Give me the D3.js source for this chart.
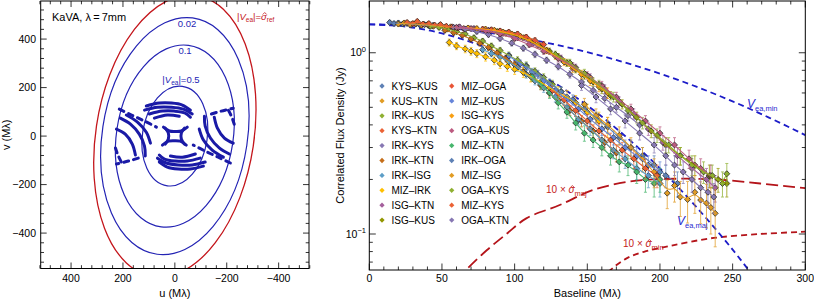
<!DOCTYPE html>
<html>
<head>
<meta charset="utf-8">
<script src="https://cdn.jsdelivr.net/npm/d3@7"></script>
<style>
  body { margin: 0; background: #fff; }
  text { font-family: "Liberation Sans", Arial, sans-serif; }
</style>
</head>
<body>
<svg id="fig" width="814" height="301"></svg>
<script>
// ---------- left panel data: uv coverage and Gaussian contours (Mλ) ----------
const contourLevels = ['0.02', '0.1', '0.5']
const contourMajor = [492, 378, 207]
const contourMinor = [280, 225, 125]
const refMajor = 585
const refMinor = 305
const tiltDeg = 8

// uv tracks (one half; the conjugate half is drawn mirrored)
const uvTracks = [
  [[110, 124], [60, 136], [13, 136], [-29, 128], [-60, 107]],
  [[117, 107], [67, 119], [13, 119], [-33, 111], [-67, 91]],
  [[98, 91], [48, 103], [2, 103], [-40, 95], [-60, 78]],
  [[79, 74], [29, 87], [-17, 82]],
  [[44, 37], [21, 21], [-2, 19], [-25, 21], [-48, 37]],
  [[37, 33], [25, 12], [25, -12], [37, -33]],
  [[210, 74], [171, 49], [137, 8], [117, -41], [114, -82]],
  [[187, 87], [144, 58], [110, 16], [94, -29]],
  [[225, 29], [191, 8], [164, -33], [152, -78]]
]
const uvDashed = [
  [[229, -49], [218, -82], [202, -115]],
  [[214, 111], [167, 87], [117, 62], [71, 37]],
  [[-141, 91], [-179, 103], [-225, 115]]
]

// ---------- right panel data: [baseline (Mλ), flux (Jy), error (Jy)] ----------
const baselines = ['KYS–KUS', 'KUS–KTN', 'IRK–KUS', 'KYS–KTN', 'IRK–KYS', 'IRK–KTN', 'IRK–ISG',
  'MIZ–IRK', 'ISG–KTN', 'ISG–KUS', 'MIZ–OGA', 'MIZ–KUS', 'ISG–KYS', 'OGA–KUS', 'MIZ–KTN',
  'IRK–OGA', 'MIZ–ISG', 'OGA–KYS', 'MIZ–KYS', 'OGA–KTN']
const palette = ['#5E81B5', '#E19C24', '#8FB032', '#EB6235', '#8778B3', '#C56E1A', '#5D9EC7',
  '#FFBF00', '#A5609D', '#929600', '#E95536', '#6685D9', '#F89F13', '#BC5B80', '#47B66D',
  '#5E81B5', '#E19C24', '#8FB032', '#EB6235', '#8778B3']

const KYS_KUS = [[14, 1.47, .04], [17, 1.45, .04], [20, 1.46, .04], [23, 1.44, .04], [26, 1.45, .04], [29, 1.43, .04], [32, 1.44, .04], [35, 1.42, .04], [38, 1.43, .04], [41, 1.41, .04], [44, 1.42, .04]]
const KUS_KTN = [[20, 1.44, .04], [24, 1.46, .04], [28, 1.43, .04], [32, 1.45, .04], [36, 1.42, .04], [40, 1.43, .04], [44, 1.40, .04], [48, 1.41, .04], [52, 1.38, .04], [56, 1.39, .04]]
const IRK_KUS = [[42, 1.40, .04], [48, 1.38, .04], [54, 1.35, .04], [60, 1.31, .04], [66, 1.27, .04], [72, 1.21, .04], [78, 1.16, .04], [84, 1.09, .04], [90, 1.03, .04], [96, 0.97, .04], [102, 0.91, .04], [108, 0.85, .04], [114, 0.79, .035], [120, 0.73, .035], [126, 0.67, .035], [132, 0.61, .035]]
const KYS_KTN = [[26, 1.47, .04], [30, 1.45, .04], [33, 1.49, .04], [37, 1.44, .04], [41, 1.45, .04], [45, 1.42, .04], [49, 1.43, .04], [53, 1.40, .04], [57, 1.39, .04], [61, 1.37, .04], [65, 1.36, .04]]
const IRK_KYS = [[58, 1.38, .04], [66, 1.35, .04], [74, 1.31, .04], [82, 1.26, .04], [90, 1.20, .04], [98, 1.13, .04], [106, 1.06, .04], [114, 0.98, .04], [122, 0.91, .035], [130, 0.84, .035], [138, 0.76, .035], [146, 0.69, .035], [154, 0.62, .03], [162, 0.56, .03], [170, 0.50, .03], [178, 0.45, .03], [186, 0.40, .03]]
const IRK_KTN = [[52, 1.33, .04], [58, 1.29, .04], [64, 1.25, .04], [70, 1.19, .04], [76, 1.13, .04], [82, 1.07, .04], [88, 1.00, .04], [94, 0.93, .04], [100, 0.86, .035], [106, 0.79, .035], [112, 0.73, .035], [118, 0.66, .035], [124, 0.60, .03], [130, 0.55, .03], [138, 0.48, .03], [146, 0.42, .03], [154, 0.37, .03], [162, 0.32, .03], [170, 0.28, .03]]
const IRK_ISG = [[78, 1.04, .04], [84, 0.99, .04], [90, 0.95, .04], [96, 0.89, .04], [102, 0.83, .04], [108, 0.76, .035], [114, 0.70, .035], [120, 0.64, .035], [128, 0.57, .035], [136, 0.50, .03], [144, 0.43, .03], [152, 0.38, .03], [160, 0.33, .03], [168, 0.29, .03], [176, 0.26, .03], [184, 0.23, .03], [192, 0.21, .03], [200, 0.19, .03]]
const MIZ_IRK = [[55, 1.14, .05], [60, 1.09, .05], [66, 1.05, .05], [70, 1.02, .05], [74, 0.99, .05], [80, 0.95, .05], [86, 0.91, .05], [90, 0.87, .05], [95, 0.84, .05], [100, 0.81, .05], [106, 0.78, .05], [111, 0.74, .05], [118, 0.69, .05], [124, 0.64, .05], [130, 0.60, .05], [136, 0.57, .05], [142, 0.53, .05], [150, 0.47, .05], [158, 0.42, .05], [164, 0.39, .05]]
const ISG_KTN = [[62, 1.39, .04], [72, 1.36, .04], [82, 1.33, .04], [92, 1.28, .04], [102, 1.21, .04], [112, 1.12, .04], [122, 1.03, .04], [132, 0.93, .04], [142, 0.83, .035], [152, 0.73, .035], [162, 0.63, .035], [172, 0.54, .03], [182, 0.46, .03], [192, 0.38, .03], [202, 0.32, .03], [212, 0.27, .03], [222, 0.23, .03], [232, 0.20, .03], [238, 0.18, .03]]
const ISG_KUS = [[88, 1.31, .04], [94, 1.28, .04], [100, 1.25, .04], [106, 1.21, .04], [112, 1.15, .04], [118, 1.09, .04], [124, 1.02, .04], [130, 0.95, .04], [136, 0.88, .04], [142, 0.81, .035], [148, 0.75, .035], [154, 0.69, .035], [160, 0.63, .035], [166, 0.58, .03], [174, 0.52, .03], [184, 0.44, .03], [194, 0.37, .03], [204, 0.31, .03], [214, 0.27, .03], [224, 0.24, .03], [234, 0.21, .03], [240, 0.20, .03], [246, 0.19, .03]]
const MIZ_OGA = [[78, 1.35, .04], [84, 1.34, .04], [90, 1.32, .04], [96, 1.30, .04], [102, 1.27, .04], [108, 1.22, .04], [114, 1.17, .04], [120, 1.11, .04]]
const MIZ_KUS = [[96, 0.96, .04], [104, 0.87, .04], [112, 0.78, .04], [120, 0.70, .035], [128, 0.62, .035], [136, 0.55, .035], [144, 0.49, .03], [152, 0.43, .03], [160, 0.38, .03], [168, 0.34, .03], [176, 0.30, .03], [184, 0.27, .03], [192, 0.24, .03], [200, 0.22, .03]]
const ISG_KYS = [[68, 1.37, .04], [74, 1.36, .04], [80, 1.35, .04], [86, 1.33, .04], [92, 1.30, .04], [98, 1.27, .04], [104, 1.23, .04], [110, 1.17, .04], [116, 1.10, .04], [122, 1.03, .04], [128, 0.96, .04], [134, 0.89, .04], [140, 0.82, .04], [146, 0.76, .04], [152, 0.70, .04], [158, 0.65, .04], [164, 0.60, .04]]
const OGA_KUS = [[60, 1.38, .04], [70, 1.36, .04], [80, 1.32, .04], [90, 1.27, .04], [100, 1.20, .04], [110, 1.11, .04], [120, 1.02, .04], [130, 0.93, .04], [140, 0.84, .04], [150, 0.75, .035], [160, 0.66, .035], [170, 0.57, .035], [180, 0.49, .03], [190, 0.42, .03], [200, 0.36, .03], [210, 0.31, .03], [220, 0.26, .03], [228, 0.23, .03], [235, 0.21, .03]]
const MIZ_KTN = [[112, 0.74, .04], [118, 0.67, .04], [124, 0.60, .04], [130, 0.53, .04], [136, 0.47, .035], [142, 0.41, .035], [148, 0.36, .035], [154, 0.33, .03], [160, 0.30, .03], [166, 0.27, .03], [172, 0.25, .03], [178, 0.24, .03], [184, 0.22, .03], [190, 0.20, .03], [196, 0.19, .03], [200, 0.20, .03]]
const IRK_OGA = [[108, 0.84, .04], [116, 0.76, .04], [124, 0.68, .035], [132, 0.61, .035], [140, 0.55, .035], [148, 0.49, .03], [156, 0.44, .03], [164, 0.39, .03], [172, 0.34, .03], [180, 0.30, .03], [188, 0.27, .03], [196, 0.24, .03], [204, 0.21, .03], [212, 0.19, .03]]
const MIZ_ISG = [[148, 0.52, .04], [156, 0.45, .04], [164, 0.40, .04], [172, 0.35, .04], [180, 0.30, .04], [188, 0.26, .04], [196, 0.22, .04], [205, 0.168, .03], [210, 0.185, .035], [214, 0.16, .035], [219, 0.155, .04], [224, 0.17, .04], [228, 0.154, .04], [232, 0.148, .04], [235, 0.14, .04], [238, 0.13, .045]]
const OGA_KYS = [[128, 0.98, .04], [138, 0.88, .04], [148, 0.77, .04], [158, 0.67, .035], [168, 0.57, .035], [178, 0.48, .03], [188, 0.41, .03], [198, 0.35, .03], [206, 0.31, .03], [214, 0.27, .03], [222, 0.24, .03], [230, 0.22, .03], [236, 0.21, .03], [243, 0.19, .03], [246, 0.215, .03]]
const MIZ_KYS = [[126, 0.62, .04], [134, 0.55, .04], [142, 0.48, .035], [150, 0.42, .035], [158, 0.37, .035], [166, 0.33, .03], [174, 0.29, .03], [182, 0.26, .03], [190, 0.23, .03], [198, 0.21, .03]]
const OGA_KTN = [[146, 0.66, .04], [156, 0.57, .04], [166, 0.49, .035], [176, 0.42, .035], [186, 0.36, .03], [196, 0.31, .03], [204, 0.27, .03], [210, 0.24, .03], [216, 0.22, .03], [222, 0.20, .03], [228, 0.18, .03], [233, 0.17, .03], [237, 0.16, .03]]

const seriesData = [KYS_KUS, KUS_KTN, IRK_KUS, KYS_KTN, IRK_KYS, IRK_KTN, IRK_ISG, MIZ_IRK, ISG_KTN, ISG_KUS,
  MIZ_OGA, MIZ_KUS, ISG_KYS, OGA_KUS, MIZ_KTN, IRK_OGA, MIZ_ISG, OGA_KYS, MIZ_KYS, OGA_KTN]

// model curves: [baseline, flux]
const vEaMin = [[0, 1.434], [25, 1.420], [50, 1.379], [75, 1.313], [100, 1.226], [125, 1.123], [150, 1.008], [175, 0.888], [200, 0.767], [225, 0.650], [250, 0.539], [275, 0.439], [300, 0.351]]
const vEaMaj = [[0, 1.434], [25, 1.394], [50, 1.279], [75, 1.108], [100, 0.907], [125, 0.701], [150, 0.512], [175, 0.353], [200, 0.230], [225, 0.141], [250, 0.082], [275, 0.045]]
const sigmaMaj = [[60, 0.056], [66.5, 0.0633], [81, 0.0816], [95, 0.101], [108, 0.122], [131, 0.1445], [154, 0.175], [178, 0.194], [200, 0.2007], [235, 0.2007], [269, 0.190], [300, 0.179]]
const sigmaMin = [[160, 0.056], [166, 0.0633], [177, 0.0734], [189, 0.0798], [207, 0.0859], [235, 0.0947], [269, 0.100], [300, 0.103]]

// ---------- drawing ----------
const svg = d3.select('#fig')
const defs = svg.append('defs')
const blue = '#2424b4'
const trackBlue = '#1a1aa6'
const red = '#c4161c'
const darkRed = '#b4141a'

function frameTicks (g, box, xScale, yScale, xMajor, xMinor, yMajor, yMinor, majLen, minLen) {
  const t = g.append('g').attr('stroke', '#000').attr('stroke-width', 0.8)
  const addX = (vals, len) => vals.forEach(v => {
    const x = xScale(v)
    t.append('line').attr('x1', x).attr('x2', x).attr('y1', box.y1).attr('y2', box.y1 - len)
    t.append('line').attr('x1', x).attr('x2', x).attr('y1', box.y0).attr('y2', box.y0 + len)
  })
  const addY = (vals, len) => vals.forEach(v => {
    const y = yScale(v)
    t.append('line').attr('y1', y).attr('y2', y).attr('x1', box.x0).attr('x2', box.x0 + len)
    t.append('line').attr('y1', y).attr('y2', y).attr('x1', box.x1).attr('x2', box.x1 - len)
  })
  addX(xMajor, majLen); addX(xMinor, minLen)
  addY(yMajor, majLen); addY(yMinor, minLen)
  g.append('rect').attr('x', box.x0).attr('y', box.y0)
    .attr('width', box.x1 - box.x0).attr('height', box.y1 - box.y0)
    .attr('fill', 'none').attr('stroke', '#000').attr('stroke-width', 1)
}

// draws a hat over the character at index idx of a text element
function addHat (g, textSel, idx, color) {
  const box = textSel.node().getExtentOfChar(idx)
  const cx = box.x + box.width / 2 + 0.8
  const top = box.y + box.height * 0.32
  g.append('path')
    .attr('d', `M${cx - 2},${top} L${cx},${top - 2} L${cx + 2},${top}`)
    .attr('fill', 'none').attr('stroke', color).attr('stroke-width', 0.8)
}

// ===== left panel =====
const LB = { x0: 40.7, x1: 309, y0: 1, y1: 268.5 }
const xu = d3.scaleLinear().domain([517, -517]).range([LB.x0, LB.x1])
const yv = d3.scaleLinear().domain([-546, 557]).range([LB.y1, LB.y0])
const left = svg.append('g')

defs.append('clipPath').attr('id', 'clipL').append('rect')
  .attr('x', LB.x0).attr('y', LB.y0).attr('width', LB.x1 - LB.x0).attr('height', LB.y1 - LB.y0)

const gE = left.append('g').attr('clip-path', 'url(#clipL)')
const kx = Math.abs(xu(1) - xu(0))
const ky = Math.abs(yv(1) - yv(0))
const ellT = `translate(${xu(0)},${yv(0)}) scale(${-kx},${-ky}) rotate(${tiltDeg})`

gE.append('ellipse').attr('transform', ellT)
  .attr('rx', refMinor).attr('ry', refMajor)
  .attr('fill', 'none').attr('stroke', red).attr('stroke-width', 1.3)
  .attr('vector-effect', 'non-scaling-stroke')
contourMajor.forEach((a, i) => {
  gE.append('ellipse').attr('transform', ellT)
    .attr('rx', contourMinor[i]).attr('ry', a)
    .attr('fill', 'none').attr('stroke', blue).attr('stroke-width', 1.2)
    .attr('vector-effect', 'non-scaling-stroke')
})

const uvLine = d3.line().x(d => xu(d[0])).y(d => yv(d[1])).curve(d3.curveCatmullRom)
const mirror = tr => tr.map(([u, v]) => [-u, -v])
const allTracks = uvTracks.concat(uvTracks.map(mirror))
const allDashed = uvDashed.concat(uvDashed.map(mirror))
gE.selectAll('path.trk').data(allTracks).enter().append('path')
  .attr('class', 'trk').attr('d', uvLine)
  .attr('fill', 'none').attr('stroke', trackBlue).attr('stroke-width', 3)
  .attr('stroke-linecap', 'round')
gE.selectAll('path.dtrk').data(allDashed).enter().append('path')
  .attr('class', 'dtrk').attr('d', uvLine)
  .attr('fill', 'none').attr('stroke', trackBlue).attr('stroke-width', 3)
  .attr('stroke-linecap', 'round').attr('stroke-dasharray', '5 5')

frameTicks(left, LB, xu, yv,
  [-400, -200, 0, 200, 400], d3.range(-520, 521, 40).filter(v => v % 200 !== 0),
  [-400, -200, 0, 200, 400], d3.range(-520, 521, 40).filter(v => v % 200 !== 0), 6, 3.3)

const fmt = v => (v < 0 ? '\u2212' + Math.abs(v) : String(v))
left.selectAll('text.xt').data([-400, -200, 0, 200, 400]).enter().append('text')
  .attr('x', d => xu(d)).attr('y', 282).attr('text-anchor', 'middle')
  .attr('font-size', 10.5).text(fmt)
left.selectAll('text.yt').data([-400, -200, 0, 200, 400]).enter().append('text')
  .attr('x', 36).attr('y', d => yv(d) + 3.7).attr('text-anchor', 'end')
  .attr('font-size', 10.5).text(fmt)
left.append('text').attr('x', xu(0)).attr('y', 297).attr('text-anchor', 'middle')
  .attr('font-size', 11).text('u (M\u03bb)')
left.append('text').attr('transform', `translate(10,${(LB.y0 + LB.y1) / 2}) rotate(-90)`)
  .attr('text-anchor', 'middle').attr('font-size', 11).text('v (M\u03bb)')

left.append('text').attr('x', 52).attr('y', 21).attr('font-size', 11)
  .text('KaVA, \u03bb\u2009=\u20097mm')

// contour labels
const cl = left.append('g').attr('fill', blue).attr('font-size', 9.5).attr('text-anchor', 'middle')
cl.append('text').attr('x', 187).attr('y', 26.5).text(contourLevels[0])
cl.append('text').attr('x', 185).attr('y', 54).text(contourLevels[1])
const t05 = cl.append('text').attr('x', 181).attr('y', 83)
t05.append('tspan').text('|')
t05.append('tspan').attr('font-style', 'italic').text('V')
t05.append('tspan').attr('font-size', 6.5).attr('dy', 2).text('ea')
t05.append('tspan').attr('dy', -2).text('|=' + contourLevels[2])
const tref = left.append('text').attr('x', 237).attr('y', 20).attr('fill', red).attr('font-size', 9.5)
tref.append('tspan').text('|')
tref.append('tspan').attr('font-style', 'italic').text('V')
tref.append('tspan').attr('font-size', 6.5).attr('dy', 2).text('ea')
tref.append('tspan').attr('dy', -2).text('|=')
tref.append('tspan').attr('font-style', 'italic').text('\u03c3')
tref.append('tspan').attr('font-size', 6.5).attr('dy', 2).text('ref')
addHat(left, tref, 6, red)

// ===== right panel =====
const RB = { x0: 369.3, x1: 805.3, y0: 1, y1: 270 }
const xb = d3.scaleLinear().domain([0, 300]).range([RB.x0, RB.x1])
const yf = d3.scaleLog().domain([0.0633, 1.93]).range([RB.y1, RB.y0])
const right = svg.append('g')

defs.append('clipPath').attr('id', 'clipR').append('rect')
  .attr('x', RB.x0).attr('y', RB.y0).attr('width', RB.x1 - RB.x0).attr('height', RB.y1 - RB.y0)
const gR = right.append('g').attr('clip-path', 'url(#clipR)')

const modelLine = d3.line().x(d => xb(d[0])).y(d => yf(d[1])).curve(d3.curveCatmullRom)
gR.append('path').attr('d', modelLine(sigmaMaj)).attr('fill', 'none')
  .attr('stroke', darkRed).attr('stroke-width', 1.8).attr('stroke-dasharray', '12 5')
gR.append('path').attr('d', modelLine(sigmaMin)).attr('fill', 'none')
  .attr('stroke', darkRed).attr('stroke-width', 1.8).attr('stroke-dasharray', '6 4')
gR.append('path').attr('d', modelLine(vEaMin)).attr('fill', 'none')
  .attr('stroke', '#1c1cc8').attr('stroke-width', 1.8).attr('stroke-dasharray', '6 4')
gR.append('path').attr('d', modelLine(vEaMaj)).attr('fill', 'none')
  .attr('stroke', '#1c1cc8').attr('stroke-width', 1.8).attr('stroke-dasharray', '6 4')

const diamond = d3.symbol(d3.symbolSquare, 18)
seriesData.forEach((pts, i) => {
  const g = gR.append('g')
  const c = palette[i]
  const eb = g.append('g').attr('stroke', c).attr('stroke-width', 1).attr('opacity', 0.75)
  eb.selectAll('line.eb').data(pts).enter().append('line')
    .attr('x1', d => xb(d[0])).attr('x2', d => xb(d[0]))
    .attr('y1', d => yf(d[1] + d[2])).attr('y2', d => yf(Math.max(d[1] - d[2], 0.01)))
  eb.selectAll('line.cap1').data(pts).enter().append('line')
    .attr('x1', d => xb(d[0]) - 1.5).attr('x2', d => xb(d[0]) + 1.5)
    .attr('y1', d => yf(d[1] + d[2])).attr('y2', d => yf(d[1] + d[2]))
  eb.selectAll('line.cap2').data(pts).enter().append('line')
    .attr('x1', d => xb(d[0]) - 1.5).attr('x2', d => xb(d[0]) + 1.5)
    .attr('y1', d => yf(d[1] - d[2])).attr('y2', d => yf(d[1] - d[2]))
  g.selectAll('path').data(pts).enter().append('path')
    .attr('d', diamond)
    .attr('transform', d => `translate(${xb(d[0])},${yf(d[1])}) rotate(45)`)
    .attr('fill', c).attr('stroke', '#222').attr('stroke-width', 0.7)
})

const fitLine = d3.line().x(d => xb(d[0])).y(d => yf(d[1])).curve(d3.curveBasis)
seriesData.forEach((pts, i) => {
  gR.append('path').attr('d', fitLine(pts)).attr('fill', 'none')
    .attr('stroke', palette[i]).attr('stroke-width', 1.1)
})

const logMinor = [0.07, 0.08, 0.09, 0.2, 0.3, 0.4, 0.5, 0.6, 0.7, 0.8, 0.9]
frameTicks(right, RB, xb, yf,
  d3.range(0, 301, 50), d3.range(0, 301, 10).filter(v => v % 50 !== 0),
  [0.1, 1], logMinor, 6.5, 3.5)

right.selectAll('text.xt').data(d3.range(0, 301, 50)).enter().append('text')
  .attr('x', d => xb(d)).attr('y', 282).attr('text-anchor', 'middle')
  .attr('font-size', 10.5).text(d => d)
const yLab = [[1, '0'], [0.1, '\u22121']]
yLab.forEach(([v, e]) => {
  const t = right.append('text').attr('x', 366).attr('y', yf(v) + 3.7)
    .attr('text-anchor', 'end').attr('font-size', 10.5)
  t.append('tspan').text('10')
  t.append('tspan').attr('font-size', 7.5).attr('dy', -4.5).text(e)
})
right.append('text').attr('x', (RB.x0 + RB.x1) / 2).attr('y', 297).attr('text-anchor', 'middle')
  .attr('font-size', 11).text('Baseline (M\u03bb)')
right.append('text').attr('transform', `translate(344,${(RB.y0 + RB.y1) / 2}) rotate(-90)`)
  .attr('text-anchor', 'middle').attr('font-size', 11).text('Correlated Flux Density (Jy)')

// curve labels
function vLabel (x, y, sub) {
  const t = right.append('text').attr('x', x).attr('y', y).attr('fill', '#2a2ad0').attr('font-size', 12)
  t.append('tspan').attr('font-style', 'italic').text('V')
  t.append('tspan').attr('font-size', 7.5).attr('dy', 2.5).text(sub)
}
vLabel(747, 108, 'ea,min')
vLabel(677, 225, 'ea,maj')
function sLabel (x, y, sub) {
  const t = right.append('text').attr('x', x).attr('y', y).attr('fill', '#c41a1a').attr('font-size', 10)
  t.append('tspan').text('10 \u00d7 ')
  t.append('tspan').attr('font-style', 'italic').text('\u03c3')
  t.append('tspan').attr('font-size', 7.5).attr('dy', 2.5).text(sub)
  addHat(right, t, 5, '#c41a1a')
}
sLabel(546, 193, 'maj')
sLabel(623, 247, 'min')

// legend
const leg = right.append('g')
const legSym = d3.symbol(d3.symbolSquare, 14)
baselines.forEach((name, i) => {
  const col = Math.floor(i / 10)
  const row = i % 10
  const x = col === 0 ? 382 : 451.7
  const y = 86 + row * 14.9
  leg.append('path').attr('d', legSym).attr('transform', `translate(${x},${y}) rotate(45)`)
    .attr('fill', palette[i])
  leg.append('text').attr('x', x + 9.5).attr('y', y + 3.6).attr('font-size', 10).text(name)
})
</script>
</body>
</html>
